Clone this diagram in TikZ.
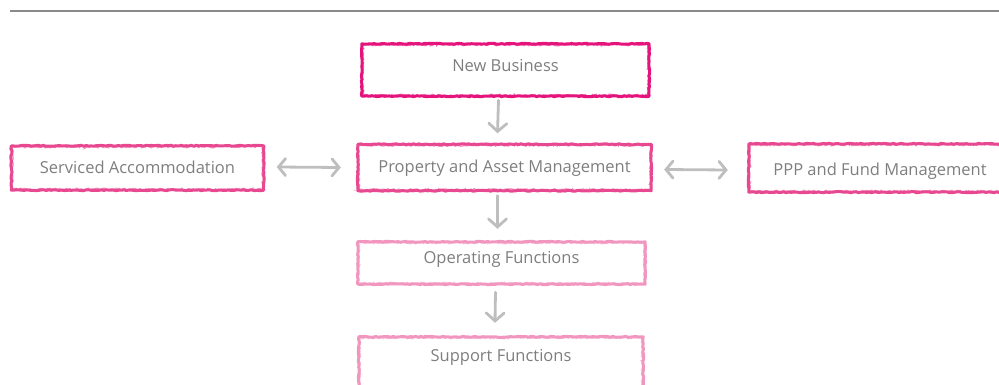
\documentclass[tikz,border=0pt]{standalone}
\usepackage{fontspec}
\setmainfont{Open Sans}
\usetikzlibrary{arrows.meta,decorations.pathmorphing,calc}

\definecolor{pinkA}{HTML}{E4147C}
\definecolor{pinkB}{HTML}{E8488F}
\definecolor{pinkC}{HTML}{F196BE}
\definecolor{labelgray}{HTML}{7E7E7E}
\definecolor{arrowgray}{HTML}{BEBEBE}
\definecolor{rulegray}{HTML}{8A8A8A}

\begin{document}
\pgfmathsetseed{11}
\begin{tikzpicture}[x=1pt,y=-1pt,
  box/.style={inner sep=0pt, text=labelgray, text height=11pt,
    font=\fontsize{16.5}{19}\selectfont},
  crayon/.style={draw=#1, line width=3pt, line join=round, line cap=round,
    decorate, decoration={random steps, segment length=2.5pt, amplitude=0.5pt}},
  crayongrain/.style={draw=#1, line width=1.2pt, opacity=0.6, line cap=round,
    decorate, decoration={random steps, segment length=1.5pt, amplitude=1pt}},
  flow/.style={draw=arrowgray, line width=2.8pt, line cap=round,
    -{Straight Barb[length=8pt,width=18pt,line cap=round]}},
  flowboth/.style={draw=arrowgray, line width=2.8pt, line cap=round,
    {Straight Barb[length=7pt,width=17pt,line cap=round]}-{Straight Barb[length=7pt,width=17pt,line cap=round]}}
]
\useasboundingbox (0,0) rectangle (999,385);
\clip (0,0) rectangle (999,385);

% header rule
\coordinate (ruleL) at (10,11);
\coordinate (ruleR) at (1005,11);
\draw[rulegray, line width=2.2pt] (ruleL) -- (ruleR);

% boxes
\node[box, minimum width=287pt, minimum height=52pt, text depth=8pt] (nb) at (505.5,70) {New Business};
\node[box, minimum width=293pt, minimum height=46pt, text depth=0pt] (pam) at (504.5,167.5) {Property and Asset Management};
\node[box, minimum width=252pt, minimum height=44pt, text depth=0pt] (sa) at (137.5,168) {Serviced Accommodation};
\node[box, minimum width=262pt, minimum height=48pt, text height=15pt, text depth=0pt] (ppp) at (880,168) {PPP and Fund Management};
\node[box, minimum width=287pt, minimum height=42pt, text depth=10pt] (op) at (501.5,263) {Operating Functions};
\node[box, minimum width=284pt, minimum height=52pt, text depth=14pt] (sf) at (501,363) {Support Functions};

% crayon outlines
\foreach \n/\c in {nb/pinkA, pam/pinkB, sa/pinkB, ppp/pinkB, op/pinkC, sf/pinkC}{
  \draw[crayon=\c] (\n.north west) rectangle (\n.south east);
  \draw[crayongrain=\c] ([shift={(1,1)}]\n.north west) rectangle ([shift={(-1,-1)}]\n.south east);
}

% connectors
\draw[flow] ($(nb.south)+(-7,4)$) -- ($(pam.north)+(-7,-11)$);
\draw[flow] ($(pam.south)+(-7,5)$) -- ($(op.north)+(-4,-13)$);
\draw[flow] ($(op.south)+(-6,8)$) -- ($(sf.north)+(-6,-14)$);
\draw[flowboth] ($(sa.east)+(13,-1)$) -- ($(pam.west)+(-17,0)$);
\draw[flowboth] ($(pam.east)+(13,2)$) -- ($(ppp.west)+(-21,2)$);
\end{tikzpicture}
\end{document}
